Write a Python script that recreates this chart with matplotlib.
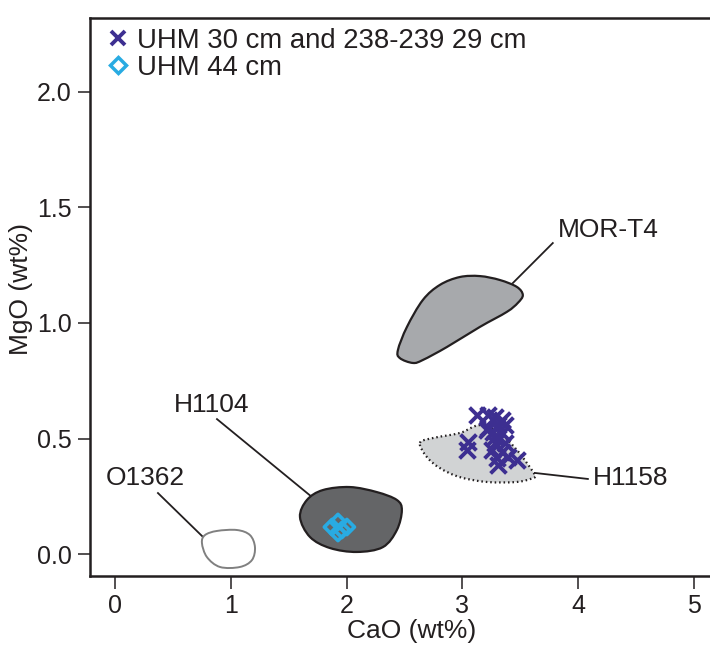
import numpy as np
import matplotlib
matplotlib.use("Agg")
import matplotlib.pyplot as plt
from matplotlib.path import Path
from matplotlib.patches import PathPatch
from matplotlib.lines import Line2D

plt.rcParams['font.family'] = ['Liberation Sans', 'DejaVu Sans']

# ---- data ----
uhm30_cao = [3.126, 3.221, 3.282, 3.342, 3.307, 3.212, 3.264, 3.342, 3.048, 3.040,
             3.282, 3.368, 3.256, 3.342, 3.299, 3.394, 3.472, 3.307, 3.221, 3.368, 3.282]
uhm30_mgo = [0.602, 0.602, 0.593, 0.580, 0.558, 0.537, 0.528, 0.524, 0.485, 0.450,
             0.481, 0.481, 0.450, 0.442, 0.416, 0.420, 0.407, 0.385, 0.545, 0.558, 0.506]
uhm44_cao = [1.874, 1.926, 2.003, 1.926, 1.960]
uhm44_mgo = [0.117, 0.139, 0.117, 0.091, 0.104]

mor_t4_cao = [2.444, 2.522, 2.660, 2.807, 2.979, 3.152, 3.325, 3.472, 3.523, 3.480, 3.385, 3.152, 2.867, 2.660, 2.573, 2.461]
mor_t4_mgo = [0.883, 0.983, 1.100, 1.165, 1.199, 1.203, 1.186, 1.156, 1.121, 1.087, 1.048, 0.983, 0.896, 0.840, 0.827, 0.848]
h1104_cao = [1.598, 1.658, 1.796, 2.029, 2.263, 2.435, 2.478, 2.435, 2.314, 2.090, 1.857, 1.684]
h1104_mgo = [0.160, 0.234, 0.277, 0.290, 0.268, 0.234, 0.190, 0.104, 0.030, 0.009, 0.026, 0.074]
o1362_cao = [0.751, 0.777, 0.881, 1.054, 1.166, 1.209, 1.183, 1.079, 0.907, 0.794]
o1362_mgo = [0.048, 0.082, 0.100, 0.104, 0.082, 0.030, -0.026, -0.056, -0.056, -0.013]
h1158_cao = [2.634, 2.746, 2.979, 3.152, 3.325, 3.472, 3.558, 3.627, 3.610, 3.472, 3.212, 2.979, 2.807, 2.694]
h1158_mgo = [0.481, 0.502, 0.524, 0.558, 0.524, 0.450, 0.394, 0.342, 0.329, 0.312, 0.312, 0.333, 0.372, 0.420]

x_ticks = [0, 1, 2, 3, 4, 5]
y_ticks = [0.0, 0.5, 1.0, 1.5, 2.0]

TEXT = '#231f20'


def smooth_closed(xs, ys):
    pts = np.column_stack([xs, ys])
    n = len(pts)
    verts = [pts[0]]
    codes = [Path.MOVETO]
    for i in range(n):
        p0 = pts[(i - 1) % n]
        p1 = pts[i]
        p2 = pts[(i + 1) % n]
        p3 = pts[(i + 2) % n]
        c1 = p1 + (p2 - p0) / 6.0
        c2 = p2 - (p3 - p1) / 6.0
        verts += [c1, c2, p2]
        codes += [Path.CURVE4] * 3
    verts.append(pts[0])
    codes.append(Path.CLOSEPOLY)
    return Path(verts, codes)


fig = plt.figure(figsize=(7.10, 6.52), dpi=100)
ax = fig.add_axes([90 / 710, 76 / 652, 620 / 710, 558 / 652])
ax.set_xlim(-0.216, 5.14)
ax.set_ylim(-0.095, 2.32)

ax.add_patch(PathPatch(smooth_closed(mor_t4_cao, mor_t4_mgo), facecolor='#a7a9ac', edgecolor=TEXT, lw=1.6, zorder=2))
ax.add_patch(PathPatch(smooth_closed(h1104_cao, h1104_mgo), facecolor='#646567', edgecolor=TEXT, lw=1.6, zorder=2))
ax.add_patch(PathPatch(smooth_closed(o1362_cao, o1362_mgo), facecolor='white', edgecolor='#808080', lw=1.4, zorder=2))
ax.add_patch(PathPatch(smooth_closed(h1158_cao, h1158_mgo), facecolor='#d1d3d4', edgecolor=TEXT, lw=1.6,
                       linestyle=(0, (0.7, 1.3)), zorder=2))

LBL = 19
# leader lines and labels
ax.plot([3.437, 3.782], [1.173, 1.346], color=TEXT, lw=1.3, zorder=1)
ax.text(3.826, 1.403, 'MOR-T4', fontsize=LBL, color=TEXT, ha='left', va='center')
ax.plot([0.881, 1.701], [0.584, 0.247], color=TEXT, lw=1.3, zorder=1)
ax.text(0.838, 0.645, 'H1104', fontsize=LBL, color=TEXT, ha='center', va='center')
ax.plot([0.371, 0.760], [0.264, 0.074], color=TEXT, lw=1.3, zorder=1)
ax.text(0.259, 0.329, 'O1362', fontsize=LBL, color=TEXT, ha='center', va='center')
ax.plot([3.627, 4.085], [0.351, 0.325], color=TEXT, lw=1.3, zorder=1)
ax.text(4.128, 0.329, 'H1158', fontsize=LBL, color=TEXT, ha='left', va='center')

ax.scatter(uhm30_cao, uhm30_mgo, marker='x', s=130, color='#3d2f91', linewidths=2.8, zorder=4)
ax.scatter(uhm44_cao, uhm44_mgo, marker='D', s=60, facecolors='none', edgecolors='#29abe2', linewidths=2.6, zorder=4)

h1 = Line2D([], [], marker='x', linestyle='none', color='#3d2f91', markersize=10, markeredgewidth=2.8)
h2 = Line2D([], [], marker='D', linestyle='none', markerfacecolor='none', markeredgecolor='#29abe2',
            markersize=8, markeredgewidth=2.5)
leg = ax.legend([h1, h2], ['UHM 30 cm and 238-239 29 cm', 'UHM 44 cm'], loc='upper left',
                bbox_to_anchor=(0.006, 1.006), frameon=False, fontsize=19.8, handlelength=0.8,
                handletextpad=0.3, labelspacing=0.05, borderaxespad=0.35, borderpad=0.12)
for t in leg.get_texts():
    t.set_color(TEXT)

ax.set_xticks(x_ticks)
ax.set_yticks(y_ticks)
ax.set_xticklabels([str(v) for v in x_ticks])
ax.set_yticklabels([f'{v:.1f}' for v in y_ticks])
ax.tick_params(axis='both', labelsize=18, colors=TEXT, direction='out', width=1.1, length=9, pad=4)
ax.set_xlabel('CaO (wt%)', fontsize=LBL, color=TEXT)
ax.set_ylabel('MgO (wt%)', fontsize=LBL, color=TEXT)
ax.xaxis.set_label_coords(0.519, -0.077)
ax.yaxis.set_label_coords(-0.092, 0.514)

for s in ['left', 'bottom', 'top']:
    ax.spines[s].set_linewidth(1.8)
    ax.spines[s].set_color(TEXT)
ax.spines['right'].set_visible(False)

fig.savefig('out.png', dpi=100)
